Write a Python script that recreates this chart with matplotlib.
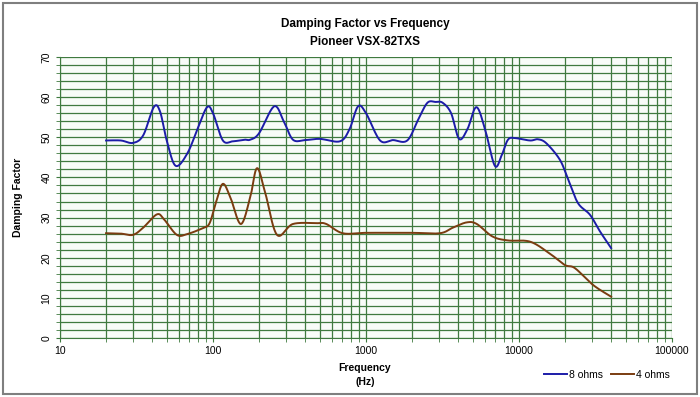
import numpy as np
import matplotlib.pyplot as plt
from matplotlib.ticker import FixedLocator, NullFormatter, MultipleLocator
from matplotlib.patches import Rectangle

plt.rcParams['font.family'] = ['Liberation Sans', 'DejaVu Sans']

# 8 ohm load
freq_8 = [20, 25, 30, 35, 41, 45, 50, 57, 68, 80, 91.5, 100, 116, 135, 160, 175, 200,
          251, 290, 333, 400, 500, 676, 780, 887, 1000, 1236, 1500, 1860, 2200,
          2520, 2850, 3170, 3600, 4060, 4600, 5260, 6000, 6950, 7700, 8470, 9420,
          11800, 13300, 15100, 18500, 21000, 24300, 29100, 33900, 40000]
df_8 = [49.2, 49.2, 48.6, 50.5, 57.5, 56.5, 49.0, 42.9, 46.0, 52.5, 57.5, 56.0, 49.2,
        49.0, 49.4, 49.4, 51.0, 57.7, 54.0, 49.4, 49.3, 49.6, 49.0, 52.0, 57.7,
        56.0, 49.2, 49.3, 49.2, 54.5, 58.6, 58.8, 58.6, 56.0, 49.6, 52.0, 57.5,
        52.0, 42.9, 45.5, 49.4, 49.8, 49.2, 49.5, 48.5, 44.4, 39.4, 33.6, 30.7,
        26.5, 22.4]

# 4 ohm load
freq_4 = [20, 25, 30, 35, 43, 48, 58, 68, 86, 95, 105, 116, 130, 152, 175, 194,
          220, 262, 333, 478, 550, 705, 1000, 2000, 3040, 3700, 4550, 5300,
          6700, 8470, 11800, 15800, 19900, 23200, 30500, 40000]
df_4 = [26.1, 26.0, 25.7, 27.5, 30.8, 29.5, 25.7, 25.9, 27.4, 28.6, 34.0, 38.4,
        35.0, 28.4, 35.0, 42.3, 36.0, 25.7, 28.4, 28.6, 28.4, 26.1, 26.2, 26.2,
        26.1, 27.5, 28.8, 28.4, 25.3, 24.3, 24.0, 21.1, 18.2, 17.4, 13.2, 10.3]

x_ticks = [10, 100, 1000, 10000, 100000]

fig = plt.figure(figsize=(7.0, 3.97), dpi=100)
ax = fig.add_axes([60 / 700, 1 - 338 / 397, 612 / 700, 281 / 397])
ax.set_facecolor('#f8fcf8')

# smooth curves in log-frequency space
def smooth(f, v, n=600):
    lf = np.log10(f)
    xs = np.linspace(lf[0], lf[-1], n)
    # Catmull-Rom through the read points
    pts = np.column_stack([lf, v])
    out = []
    for i in range(len(pts) - 1):
        p0 = pts[max(i - 1, 0)]
        p1 = pts[i]
        p2 = pts[i + 1]
        p3 = pts[min(i + 2, len(pts) - 1)]
        t = np.linspace(0, 1, 20, endpoint=False)[:, None]
        seg = 0.5 * ((2 * p1) + (-p0 + p2) * t + (2 * p0 - 5 * p1 + 4 * p2 - p3) * t ** 2
                     + (-p0 + 3 * p1 - 3 * p2 + p3) * t ** 3)
        out.append(seg)
    out.append(pts[-1:])
    out = np.vstack(out)
    return 10 ** out[:, 0], out[:, 1]

x8, y8 = smooth(freq_8, df_8)
x4, y4 = smooth(freq_4, df_4)

ax.plot(x8, y8, color='#1c1ca8', lw=1.4, label='8 ohms', zorder=3)
ax.plot(x4, y4, color='#7a3c10', lw=1.4, label='4 ohms', zorder=3)

ax.set_xscale('log')
ax.set_xlim(10, 100000)
ax.set_ylim(0, 70)
ax.xaxis.set_major_locator(FixedLocator(x_ticks))
ax.xaxis.set_minor_locator(FixedLocator([d * k for d in x_ticks[:-1] for k in range(2, 10)]))
ax.xaxis.set_minor_formatter(NullFormatter())
ax.set_xticklabels([str(t) for t in x_ticks])
ax.yaxis.set_major_locator(MultipleLocator(10))
ax.yaxis.set_minor_locator(MultipleLocator(2))

ax.grid(True, which='both', color='#3f7a3f', lw=0.9)
ax.set_axisbelow(True)
for s in ['top', 'right']:
    ax.spines[s].set_visible(False)
ax.spines['left'].set_color('#3f7a3f')
ax.spines['bottom'].set_color('#3f7a3f')
ax.tick_params(which='both', length=3, color='#3f7a3f', labelsize=7.5, pad=3)
for lab in ax.get_yticklabels():
    lab.set_rotation(90)
    lab.set_va('center')

fig.text(365 / 700, 1 - 24 / 397, 'Damping Factor vs Frequency', ha='center', va='center',
         fontsize=8.5, fontweight='bold')
fig.text(365 / 700, 1 - 42 / 397, 'Pioneer VSX-82TXS', ha='center', va='center',
         fontsize=8.5, fontweight='bold')
fig.text(18 / 700, 1 - 197 / 397, 'Damping Factor', rotation=90, ha='center', va='center',
         fontsize=7.5, fontweight='bold')
fig.text(365 / 700, 1 - 368 / 397, 'Frequency', ha='center', va='center',
         fontsize=7.5, fontweight='bold')
fig.text(365 / 700, 1 - 382 / 397, '(Hz)', ha='center', va='center',
         fontsize=7.5, fontweight='bold')

fig.legend(loc='center', bbox_to_anchor=(607 / 700, 1 - 375 / 397), ncol=2, frameon=False,
           fontsize=7.5, handlelength=2.2, handletextpad=0.2, columnspacing=0.8)

fig.patches.append(Rectangle((3 / 700, 3 / 397), 694 / 700, 391 / 397, transform=fig.transFigure,
                             fill=False, edgecolor='#7f7f7f', lw=1.5))

fig.savefig('out.png', dpi=100)
